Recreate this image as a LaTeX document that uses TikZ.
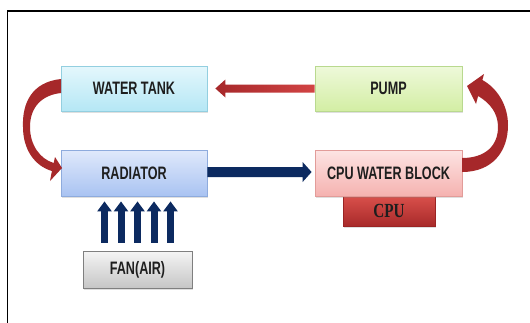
\documentclass[tikz,border=0pt]{standalone}
\usepackage{fontspec}
\usetikzlibrary{shadows,arrows.meta,calc}
\newfontfamily\labfont[FakeStretch=0.70]{Liberation Sans}
\newfontfamily\cpufont[FakeStretch=0.76]{Liberation Serif}
\definecolor{wtTop}{HTML}{E4F7FC}\definecolor{wtBot}{HTML}{B5E7F5}\definecolor{wtBd}{HTML}{93CFE0}
\definecolor{puTop}{HTML}{EEF9DA}\definecolor{puBot}{HTML}{D3EEA4}\definecolor{puBd}{HTML}{B9D98F}
\definecolor{raTop}{HTML}{E0E9FB}\definecolor{raBot}{HTML}{A9C3F2}\definecolor{raBd}{HTML}{8EABDD}
\definecolor{cbTop}{HTML}{FDE4E3}\definecolor{cbBot}{HTML}{F5B2B0}\definecolor{cbBd}{HTML}{E29C99}
\definecolor{cpTop}{HTML}{D9504B}\definecolor{cpBot}{HTML}{A82A2A}\definecolor{cpBd}{HTML}{9A2424}
\definecolor{faTop}{HTML}{F4F4F4}\definecolor{faBot}{HTML}{C6C6C6}\definecolor{faBd}{HTML}{7F7F7F}
\definecolor{arRed}{HTML}{A6282A}\definecolor{arRedL}{HTML}{D24444}
\definecolor{navyA}{HTML}{0C2A60}\definecolor{txt}{HTML}{1E1E1E}
\tikzset{
  box/.style={minimum width=146pt, minimum height=45pt, inner sep=0pt, draw, line width=0.8pt,
    text=txt, font=\labfont\bfseries\fontsize{18}{18}\selectfont,
    drop shadow={shadow xshift=1.2pt,shadow yshift=-1.5pt,opacity=0.25}},
  fanarrow/.style={draw=navyA, line width=7pt, -{Triangle[length=10pt,width=14pt]}}
}
\begin{document}
\begin{tikzpicture}[x=1pt,y=-1pt]
\useasboundingbox (0,0) rectangle (530,322);
\clip (0,0) rectangle (530,322);
\fill[white] (0,0) rectangle (530,322);
\draw[line width=1.8pt] (7.5,340) -- (7.5,11) -- (545,11);

% boxes
\node[box, top color=wtTop, bottom color=wtBot, draw=wtBd] (wt) at (134,88.5) {WATER TANK};
\node[box, minimum width=147pt, top color=puTop, bottom color=puBot, draw=puBd] (pump) at (388.5,88.5) {PUMP};
\node[box, minimum height=46pt, top color=raTop, bottom color=raBot, draw=raBd] (rad) at (134,173) {RADIATOR};
\node[box, minimum width=92pt, minimum height=30pt, top color=cpTop, bottom color=cpBot, draw=cpBd,
  font=\cpufont\bfseries\fontsize{20}{20}\selectfont] (cpu) at (389,211) {CPU};
\node[box, minimum width=147pt, minimum height=46pt, top color=cbTop, bottom color=cbBot, draw=cbBd] (cpub) at (388.5,173) {CPU WATER BLOCK};
\node[box, minimum width=109pt, minimum height=37pt, top color=faTop, bottom color=faBot, draw=faBd] (fan) at (137.5,269.5) {FAN(AIR)};

% pump -> water tank
\path[left color=arRed, right color=arRedL]
  ($(pump.west)+(0,-4)$) -- ($(wt.east)+(18,-4)$) -- ($(wt.east)+(18,-9)$) -- ($(wt.east)+(8,0)$)
  -- ($(wt.east)+(18,9)$) -- ($(wt.east)+(18,4)$) -- ($(pump.west)+(0,4)$) -- cycle;

% radiator -> cpu water block
\fill[navyA]
  ($(rad.east)+(0,-6)$) -- ($(cpub.west)+(-12,-6)$) -- ($(cpub.west)+(-12,-11)$) -- ($(cpub.west)+(-3,-1)$)
  -- ($(cpub.west)+(-12,9)$) -- ($(cpub.west)+(-12,4)$) -- ($(rad.east)+(0,4)$) -- cycle;

% fan arrows
\foreach \dx in {-33,-16.5,0,16.5,33}
  \draw[fanarrow] ($(fan.north)+(\dx,-8)$) -- ($(fan.north |- rad.south)+(\dx,5)$);

% water tank -> radiator (curved)
\fill[arRed] (61,79) .. controls (32,82) and (22,103) .. (23,127)
  .. controls (23,150) and (35,166) .. (51.9,171) -- (50,181) -- (62,168) -- (55,157) -- (53.7,163)
  .. controls (40,159) and (30,145) .. (30,127)
  .. controls (30,107) and (42,95) .. (61,93) -- cycle;

% cpu water block -> pump (curved)
\fill[arRed] (462,172) .. controls (492,172) and (508,152) .. (508,125)
  .. controls (508,105) and (497,88) .. (482.4,80) -- (484,74) -- (467,86) -- (476,104) -- (478.1,96)
  .. controls (490,103) and (498,113) .. (498,127)
  .. controls (498,146) and (485,158) .. (462,158) -- cycle;
\end{tikzpicture}
\end{document}
